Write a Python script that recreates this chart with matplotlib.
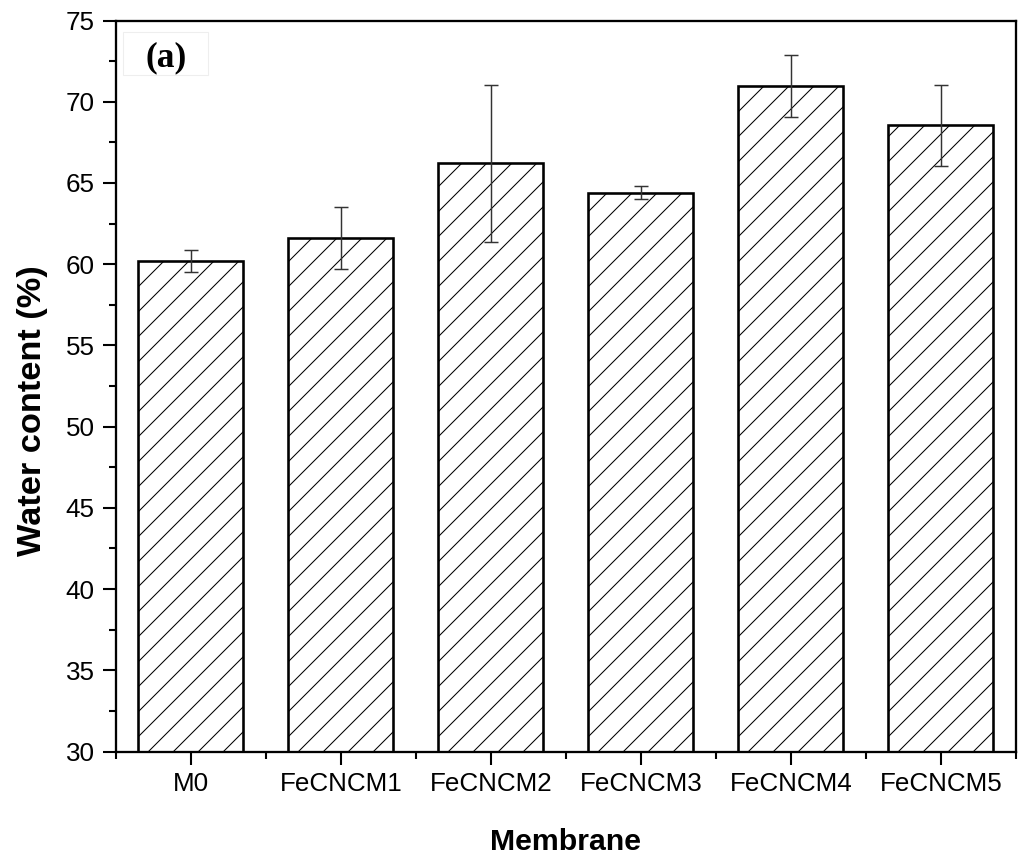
import matplotlib
matplotlib.use("Agg")
import matplotlib.pyplot as plt
from matplotlib.patches import Rectangle
from matplotlib.ticker import MultipleLocator, FixedLocator

# Water content of the membranes (mean and standard deviation, %)
membranes = ["M0", "FeCNCM1", "FeCNCM2", "FeCNCM3", "FeCNCM4", "FeCNCM5"]
water_content = [60.2, 61.6, 66.2, 64.4, 70.95, 68.55]
water_std = [0.65, 1.9, 4.85, 0.4, 1.9, 2.5]

DPI = 75
plt.rcParams["font.family"] = ["Liberation Sans", "DejaVu Sans"]
plt.rcParams["hatch.linewidth"] = 1.0
plt.rcParams["hatch.color"] = "#222222"

fig = plt.figure(figsize=(1018 / DPI, 859 / DPI), dpi=DPI)
ax = fig.add_axes([0.1139, 0.1251, 0.8841, 0.8510])

x = list(range(len(membranes)))
ax.bar(x, water_content, width=0.7, bottom=0, color="white",
       edgecolor="black", linewidth=2.5, hatch="/", zorder=2)
ax.errorbar(x, water_content, yerr=water_std, fmt="none", ecolor="#333333",
            elinewidth=1.4, capsize=6.7, capthick=1.4, zorder=3)

ax.set_xlim(-0.5, len(membranes) - 0.5)
ax.set_ylim(30, 75)
ax.set_xticks(x)
ax.set_xticklabels(membranes)
ax.xaxis.set_minor_locator(FixedLocator([i - 0.5 for i in range(len(membranes) + 1)]))
ax.yaxis.set_major_locator(MultipleLocator(5))
ax.yaxis.set_minor_locator(MultipleLocator(2.5))

for s in ax.spines.values():
    s.set_linewidth(2.2)
ax.tick_params(axis="both", which="major", direction="out", length=12.5,
               width=2.0, labelsize=25)
ax.tick_params(axis="both", which="minor", direction="out", length=6.7, width=2.0)
ax.tick_params(axis="x", which="major", pad=7)
ax.tick_params(axis="y", which="major", pad=8)

ax.set_xlabel("Membrane", fontsize=29, fontweight="bold")
ax.set_ylabel("Water content (%)", fontsize=33, fontweight="bold")
ax.xaxis.set_label_coords(0.499, -0.104)
ax.yaxis.set_label_coords(-0.075, 0.467)

# panel tag with its faint frame
ax.add_patch(Rectangle((0.0078, 0.9254), 0.0944, 0.0589, transform=ax.transAxes,
                       facecolor="white", edgecolor="#eeeeee", linewidth=1.0,
                       zorder=4))
ax.text(0.0556, 0.9487, "(a)", transform=ax.transAxes, fontsize=34,
        fontweight="bold", family=["Liberation Serif", "DejaVu Serif"],
        ha="center", va="center", zorder=5)

fig.savefig("out.png", dpi=DPI)
